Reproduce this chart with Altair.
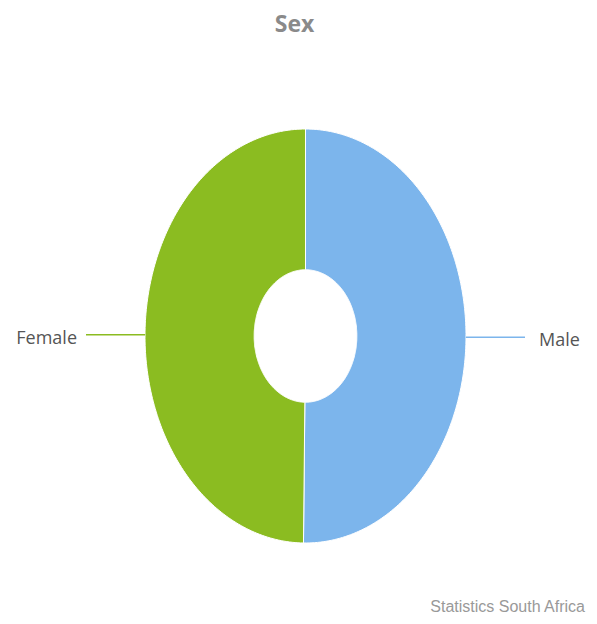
import math
import altair as alt
import pandas as pd

# ---- data ----
categories = ["Male", "Female"]
shares = [50.2, 49.8]
colors = ["#7cb5ec", "#8bbc21"]
title_text = "Sex"
credit_text = "Statistics South Africa"

# ---- layout ----
W, H = 581, 608
CX, CY = 297.5, 328.0
RX, RY = 160.5, 207.0
INNER = 0.32
N = 180
FONT = "Open Sans, Noto Sans, sans-serif"

xs = alt.Scale(domain=[0, W], nice=False, zero=False)
ys = alt.Scale(domain=[0, H], nice=False, zero=False, reverse=True)

total = sum(shares)
layers = []
cum = 0.0
for cat, val, col in zip(categories, shares, colors):
    s = 2 * math.pi * cum / total
    cum += val
    e = 2 * math.pi * cum / total
    poly = (
        alt.Chart(alt.sequence(0, 2 * N + 3, as_="k"))
        .transform_calculate(
            kk=f"datum.k == {2 * N + 2} ? 0 : datum.k",
            outer=f"datum.kk <= {N} ? 1 : 0",
            t=f"datum.outer ? datum.kk / {N} : ({2 * N + 1} - datum.kk) / {N}",
            ang=f"{s} + ({e} - {s}) * datum.t",
            r=f"datum.outer ? 1 : {INNER}",
            px=f"{CX} + datum.r * {RX} * sin(datum.ang)",
            py=f"{CY} - datum.r * {RY} * cos(datum.ang)",
        )
        .mark_line(fill=col, stroke="white", strokeWidth=1, strokeJoin="round")
        .encode(
            x=alt.X("px:Q", scale=xs, axis=None),
            y=alt.Y("py:Q", scale=ys, axis=None),
            order=alt.Order("k:Q"),
        )
    )
    layers.append(poly)

    mid = (s + e) / 2
    side = 1 if math.sin(mid) >= 0 else -1
    df = pd.DataFrame({"cat": [cat], "mid": [mid]})
    base = alt.Chart(df).transform_calculate(
        x0=f"{CX} + {RX} * sin(datum.mid)",
        y0=f"{CY} - {RY} * cos(datum.mid)",
        x1=f"datum.x0 + {side} * 59",
        tx=f"datum.x1 + {side} * " + ("14" if side > 0 else "9"),
    )
    rule = base.mark_rule(color=col, strokeWidth=1.5).encode(
        x=alt.X("x0:Q", scale=xs, axis=None),
        x2="x1:Q",
        y=alt.Y("y0:Q", scale=ys, axis=None),
    )
    txt = base.mark_text(
        align="left" if side > 0 else "right",
        baseline="middle",
        dy=4,
        font=FONT,
        fontSize=18,
        color="#555555",
    ).encode(
        x=alt.X("tx:Q", scale=xs, axis=None),
        y=alt.Y("y0:Q", scale=ys, axis=None),
        text="cat:N",
    )
    layers += [rule, txt]

title = (
    alt.Chart(pd.DataFrame({"t": [title_text]}))
    .mark_text(align="center", baseline="alphabetic", font=FONT, fontSize=23,
               fontWeight="bold", color="#8a8a8a")
    .encode(x=alt.value(286.5), y=alt.value(23.5), text="t:N")
)
credit = (
    alt.Chart(pd.DataFrame({"t": [credit_text]}))
    .mark_text(align="right", baseline="alphabetic", font="Liberation Sans, Arial, sans-serif",
               fontSize=16, color="#999999")
    .encode(x=alt.value(577), y=alt.value(603.5), text="t:N")
)
layers += [title, credit]

chart = (
    alt.layer(*layers)
    .properties(width=W, height=H, padding=0, autosize="none", background="white")
    .configure_view(stroke=None)
)

chart.save("out.html", embed_options={"renderer": "svg", "actions": False})
